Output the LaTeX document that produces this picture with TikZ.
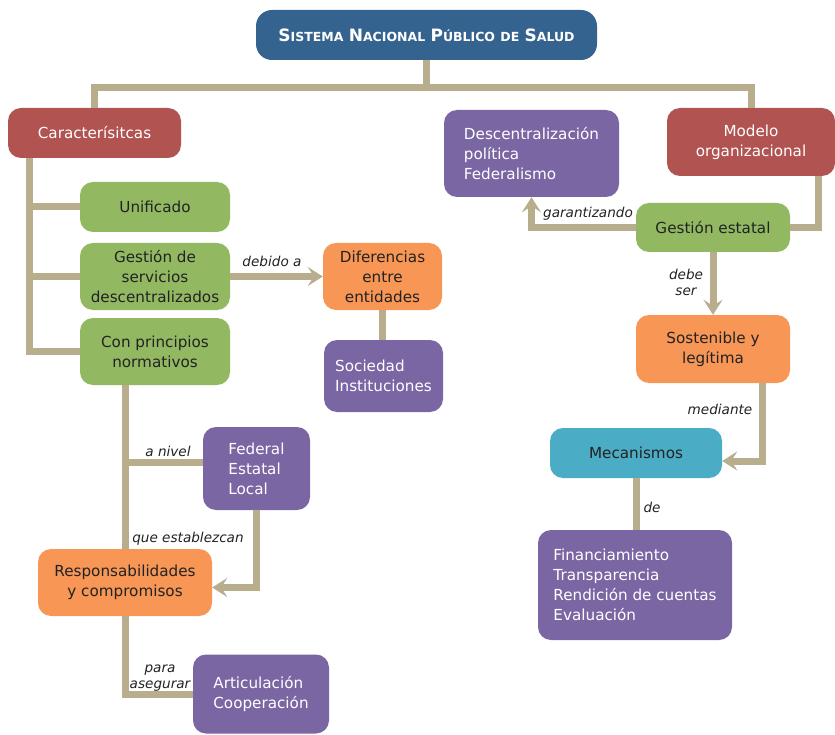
\documentclass[tikz,border=0pt]{standalone}
\usepackage{fontspec}
\setmainfont{DejaVu Sans}
\usetikzlibrary{arrows.meta}

\definecolor{titleblue}{HTML}{35638F}
\definecolor{brick}{HTML}{B05351}
\definecolor{leaf}{HTML}{92B962}
\definecolor{peach}{HTML}{F79655}
\definecolor{lilac}{HTML}{7B66A4}
\definecolor{sea}{HTML}{4BACC6}
\definecolor{sand}{HTML}{B8AE8E}
\definecolor{ink}{HTML}{222222}

\newcommand\smcap[2]{{\fontsize{17}{18}\selectfont #1}{\fontsize{12.5}{13}\selectfont #2}}

\begin{document}
\begin{tikzpicture}[x=1pt,y=-1pt,
    box/.style={rounded corners=13pt, inner sep=4pt, align=center,
        font=\fontsize{15.2}{20}\selectfont},
    redbox/.style={box, fill=brick, text=white},
    greenbox/.style={box, fill=leaf, text=ink},
    orangebox/.style={box, fill=peach, text=ink},
    purplebox/.style={box, fill=lilac, text=white, align=left},
    tealbox/.style={box, fill=sea, text=ink},
    link/.style={draw=sand, line width=7pt},
    arrow/.style={link, -{Stealth[length=15pt,width=19pt,inset=6pt]}},
    lbl/.style={font=\fontsize{13.6}{16}\selectfont\itshape, text=ink, align=center, inner sep=1pt}]
    \useasboundingbox (0,0) rectangle (835,735);

    \node[box, fill=titleblue, text=white, rounded corners=16pt, minimum width=341pt, minimum height=50pt]
        (title) at (426.5,35) {\bfseries\smcap{S}{ISTEMA} \smcap{N}{ACIONAL} \smcap{P}{ÚBLICO} \smcap{}{DE} \smcap{S}{ALUD}};

    \node[redbox, minimum width=173pt, minimum height=50pt] (carac) at (94.5,133) {Caracterísitcas};
    \node[greenbox, minimum width=150pt, minimum height=50pt] (unif) at (155,207) {Unificado};
    \node[greenbox, minimum width=150pt, minimum height=67pt] (gest) at (155,276.5) {Gestión de\\servicios\\descentralizados};
    \node[greenbox, minimum width=150pt, minimum height=67pt] (conp) at (155,351.5) {Con principios\\normativos};
    \node[orangebox, minimum width=119pt, minimum height=67pt] (difer) at (382.5,276.5) {Diferencias\\entre\\entidades};
    \node[purplebox, minimum width=119pt, minimum height=72pt] (soc) at (383.5,376) {Sociedad\\Instituciones};
    \node[purplebox, minimum width=107pt, minimum height=83pt] (fed) at (256.5,468.5) {Federal\\Estatal\\Local};
    \node[orangebox, minimum width=174pt, minimum height=67pt] (resp) at (125,582.5) {Responsabilidades\\y compromisos};
    \node[purplebox, minimum width=136pt, minimum height=79pt] (artic) at (261,694) {Articulación\\Cooperación};

    \node[redbox, minimum width=168pt, minimum height=68pt] (model) at (751,142) {Modelo\\organizacional};
    \node[purplebox, minimum width=175pt, minimum height=87pt] (desc) at (531.5,153.5) {Descentralización\\política\\Federalismo};
    \node[greenbox, minimum width=154pt, minimum height=49pt] (gestE) at (713,227.5) {Gestión estatal};
    \node[orangebox, minimum width=154pt, minimum height=68pt] (sost) at (713,349) {Sostenible y\\legítima};
    \node[tealbox, minimum width=172pt, minimum height=50pt] (mech) at (636,453) {Mecanismos};
    \node[purplebox, minimum width=194pt, minimum height=110pt] (fin) at (635,585) {Financiamiento\\Transparencia\\Rendición de cuentas\\Evaluación};

    \coordinate (bar) at (0,88);
    \draw[link] (title.south) -- (title.south |- bar);
    \draw[link] (carac.north) |- (title.south |- bar) -| (model.north);

    \coordinate (trunk) at ([xshift=22pt]carac.south west);
    \draw[link] (trunk) |- (conp.west);
    \draw[link] (trunk |- unif.west) -- (unif.west);
    \draw[link] (trunk |- gest.west) -- (gest.west);
    \draw[arrow] (gest.east) -- (difer.west);
    \draw[link] (difer.south) -- (difer.south |- soc.north);
    \draw[link] (resp.north |- conp.south) -- (resp.north);
    \draw[link] ([yshift=6pt]fed.west) -- ([yshift=6pt]fed.west -| resp.north);
    \draw[arrow] (fed.south) |- ([yshift=-5pt]resp.east);
    \draw[link] (resp.south) |- (artic.west);

    \draw[link] ([xshift=-17pt]model.south east) |- (gestE.east);
    \draw[arrow] (gestE.west) -| (desc.south);
    \draw[arrow] (gestE.south) -- (sost.north);
    \draw[arrow] ([xshift=-28pt]sost.south east) |- ([yshift=-8pt]mech.east);
    \draw[link] (mech.south) -- (mech.south |- fin.north);

    \node[lbl] (ldebido) at (272,261) {debido a};
    \node[lbl] (lnivel) at (168,451) {a nivel};
    \node[lbl] (lque) at (188,539) {que establezcan};
    \node[lbl] (lpara) at (160,678) {para\\asegurar};
    \node[lbl] (lgar) at (588,214) {garantizando};
    \node[lbl] (ldebe) at (686,282) {debe\\ser};
    \node[lbl] (lmed) at (720,409) {mediante};
    \node[lbl] (lde) at (652,507) {de};
\end{tikzpicture}
\end{document}
